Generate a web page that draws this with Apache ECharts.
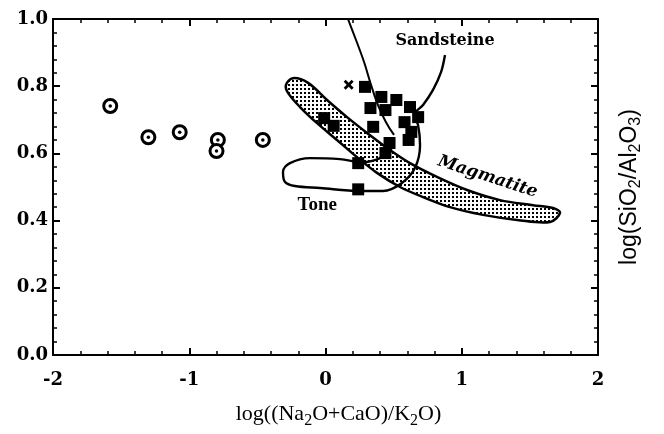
<!DOCTYPE html>
<html>
<head>
<meta charset="utf-8">
<script src="https://cdn.jsdelivr.net/npm/echarts@6/dist/echarts.min.js"></script>
<style>html,body{margin:0;padding:0;background:#fff}#c{width:664px;height:434px}</style>
</head>
<body>
<div id="c"></div>
<script>
// ---- data ----
const xTickLabels = ['-2', '-1', '0', '1', '2'];
const yTickLabels = ['0.0', '0.2', '0.4', '0.6', '0.8', '1.0'];

const circleX = [-1.58, -1.30, -1.07, -0.79, -0.80, -0.46];
const circleY = [0.741, 0.648, 0.663, 0.640, 0.607, 0.640];

const squareX = [0.29, 0.41, 0.52, 0.62, 0.33, 0.44, 0.68, 0.35, 0.58, 0.63, 0.47, 0.61, 0.44, 0.24, 0.24, -0.01, 0.06];
const squareY = [0.798, 0.768, 0.759, 0.738, 0.735, 0.729, 0.708, 0.679, 0.693, 0.664, 0.631, 0.640, 0.601, 0.493, 0.571, 0.705, 0.682];

const crossX = [0.17];
const crossY = [0.804];

// field outlines (data coordinates)
const magmatiteX = [-0.239, -0.128, 0.011, 0.158, 0.305, 0.473, 0.620, 0.818, 1.039, 1.281, 1.523, 1.670, 1.721, 1.648, 1.406, 1.156, 0.914, 0.716, 0.547, 0.378, 0.231, 0.084, -0.062, -0.187, -0.275, -0.290];
const magmatiteY = [0.824, 0.810, 0.759, 0.708, 0.661, 0.610, 0.571, 0.530, 0.491, 0.461, 0.446, 0.4375, 0.423, 0.396, 0.402, 0.417, 0.440, 0.470, 0.500, 0.542, 0.589, 0.640, 0.690, 0.738, 0.780, 0.804];

const toneX = [0.877, 0.848, 0.789, 0.716, 0.650, 0.679, 0.694, 0.657, 0.561, 0.422, 0.253, -0.040, -0.224, -0.297, -0.312, -0.261, -0.114, 0.106, 0.268, 0.400, 0.488];
const toneY = [0.893, 0.842, 0.789, 0.744, 0.714, 0.685, 0.625, 0.557, 0.512, 0.488, 0.488, 0.497, 0.503, 0.515, 0.545, 0.571, 0.586, 0.583, 0.574, 0.586, 0.616];

const sandX = [0.165, 0.224, 0.283, 0.334, 0.385, 0.444, 0.503];
const sandY = [1.000, 0.9375, 0.872, 0.804, 0.744, 0.693, 0.655];

const fieldNames = ['Sandsteine', 'Magmatite', 'Tone'];
const fieldLabelX = [0.877, 1.19, -0.06];
const fieldLabelY = [0.935, 0.530, 0.446];

// ---- chart ----
const zip = (xs, ys) => xs.map((x, i) => [x, ys[i]]);

const pat = document.createElement('canvas');
pat.width = 4; pat.height = 4;
const pctx = pat.getContext('2d');
pctx.fillStyle = '#fff'; pctx.fillRect(0, 0, 4, 4);
pctx.fillStyle = '#000'; pctx.fillRect(0, 0, 2, 2);

const tickFont = { fontFamily: 'DejaVu Serif', fontWeight: 'bold', fontSize: 18, color: '#000' };
const axisLine = { show: true, onZero: false, lineStyle: { color: '#000', width: 2 } };
const axisTick = { show: true, inside: true, length: 7, lineStyle: { color: '#000', width: 2 } };
const minorTick = { show: true, splitNumber: 5, length: 4, lineStyle: { color: '#000', width: 1.5 } };

const xBase = { type: 'value', min: -2, max: 2, interval: 1, axisLine, axisTick, minorTick, splitLine: { show: false } };
const yBase = { type: 'value', min: 0, max: 1, interval: 0.2, axisLine, axisTick, minorTick, splitLine: { show: false } };

const chart = echarts.init(document.getElementById('c'), null, { renderer: 'canvas' });
chart.setOption({
  animation: false,
  backgroundColor: '#fff',
  grid: { left: 53, right: 66, top: 19, bottom: 79 },
  xAxis: [
    Object.assign({}, xBase, {
      position: 'bottom',
      axisLabel: Object.assign({ margin: 16, formatter: v => xTickLabels[Math.round(v + 2)] }, tickFont),
      name: 'log((Na{s|2}O+CaO)/K{s|2}O)',
      nameLocation: 'middle',
      nameGap: 45,
      nameTextStyle: {
        fontFamily: 'Liberation Serif', fontSize: 22, color: '#000',
        padding: [0, 0, 0, 26],
        rich: { s: { fontFamily: 'Liberation Serif', fontSize: 16, padding: [13, 0, 0, 0] } }
      }
    }),
    Object.assign({}, xBase, { position: 'top', axisLabel: { show: false } })
  ],
  yAxis: [
    Object.assign({}, yBase, {
      position: 'left',
      axisLabel: Object.assign({ margin: 5, formatter: v => yTickLabels[Math.round(v * 5)] }, tickFont)
    }),
    Object.assign({}, yBase, {
      position: 'right',
      axisLabel: { show: false },
      name: 'log(SiO{s|2}/Al{s|2}O{s|3})',
      nameLocation: 'middle',
      nameGap: 18,
      nameTextStyle: {
        fontFamily: 'Liberation Sans', fontSize: 23, color: '#000',
        rich: { s: { fontFamily: 'Liberation Sans', fontSize: 16, padding: [12, 0, 0, 0] } }
      }
    })
  ],
  series: [
    {
      type: 'custom',
      silent: true,
      data: [[magmatiteX[0], magmatiteY[0]]],
      renderItem: function (params, api) {
        const pts = magmatiteX.map((x, i) => api.coord([x, magmatiteY[i]]));
        return {
          type: 'polygon',
          shape: { points: pts, smooth: 0.35 },
          style: { fill: { image: pat, repeat: 'repeat' }, stroke: '#000', lineWidth: 2.5 }
        };
      },
      z: 1
    },
    {
      type: 'line', silent: true, smooth: 0.35, showSymbol: false, symbol: 'none',
      data: zip(toneX, toneY), lineStyle: { color: '#000', width: 2.4, opacity: 1 }, z: 2
    },
    {
      type: 'line', silent: true, smooth: 0.35, showSymbol: false, symbol: 'none',
      data: zip(sandX, sandY), lineStyle: { color: '#000', width: 2, opacity: 1 }, z: 2
    },
    {
      type: 'scatter', silent: true, symbol: 'circle', symbolSize: 13,
      data: zip(circleX, circleY),
      itemStyle: { color: '#fff', borderColor: '#000', borderWidth: 3, opacity: 1 }, z: 3
    },
    {
      type: 'scatter', silent: true, symbol: 'circle', symbolSize: 3.5,
      data: zip(circleX, circleY), itemStyle: { color: '#000', opacity: 1 }, z: 4
    },
    {
      type: 'scatter', silent: true, symbol: 'rect', symbolSize: 12,
      data: zip(squareX, squareY), itemStyle: { color: '#000', opacity: 1 }, z: 5
    },
    {
      type: 'scatter', silent: true,
      symbol: 'path://M0,2L2,0L5,3L8,0L10,2L7,5L10,8L8,10L5,7L2,10L0,8L3,5Z', symbolSize: 10,
      data: zip(crossX, crossY), itemStyle: { color: '#000', opacity: 1 }, z: 5
    },
    {
      type: 'scatter', silent: true, symbolSize: 0,
      data: fieldNames.map((n, i) => ({
        value: [fieldLabelX[i], fieldLabelY[i]],
        name: n,
        label: i === 1 ? { rotate: -18, fontStyle: 'italic', fontWeight: 'bold', fontFamily: 'DejaVu Serif', fontSize: 17 }
             : i === 0 ? { fontFamily: 'DejaVu Serif', fontWeight: 'bold', fontSize: 16 }
             : { fontFamily: 'Liberation Serif', fontWeight: 'bold', fontSize: 19 }
      })),
      itemStyle: { opacity: 1 },
      label: { show: true, position: 'inside', color: '#000', opacity: 1, formatter: p => p.name },
      z: 6
    }
  ]
});
</script>
</body>
</html>
